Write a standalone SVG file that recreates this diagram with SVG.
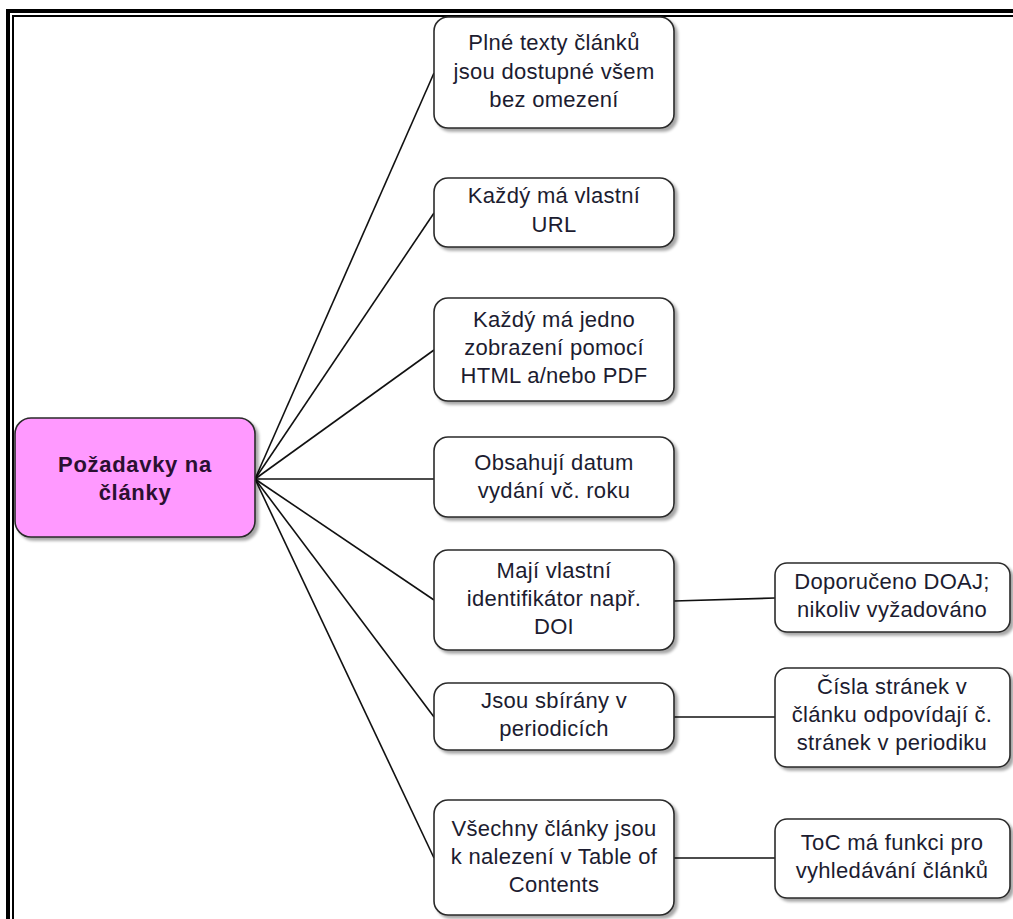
<svg xmlns="http://www.w3.org/2000/svg" width="1013" height="919" viewBox="0 0 1013 919">
<style>
.node{fill:#ffffff;stroke:#2a2a2a;stroke-width:1.6}
.root{fill:#ff99ff;stroke:#2a2a2a;stroke-width:1.6}
.t{font-family:"Liberation Sans",Arial,sans-serif;font-size:22px;letter-spacing:0.3px;fill:#1c1c30;text-anchor:middle}
.tb{font-family:"Liberation Sans",Arial,sans-serif;font-size:22px;font-weight:bold;letter-spacing:0.7px;fill:#2a1030;text-anchor:middle}
.c{stroke:#111;stroke-width:1.6;fill:none}
</style>
<defs>
<filter id="sh" x="-10%" y="-10%" width="130%" height="130%">
<feGaussianBlur in="SourceAlpha" stdDeviation="1.5"/>
<feOffset dx="3" dy="3" result="o"/>
<feComponentTransfer><feFuncA type="linear" slope="0.35"/></feComponentTransfer>
<feMerge><feMergeNode/><feMergeNode in="SourceGraphic"/></feMerge>
</filter>
</defs>
<rect width="1013" height="919" fill="#ffffff"/>
<g id="frame">
<rect x="6" y="9" width="1007" height="4" fill="#000"/>
<rect x="6" y="9" width="4" height="910" fill="#000"/>
<rect x="12" y="15" width="1001" height="2" fill="#000"/>
<rect x="12" y="15" width="2" height="904" fill="#000"/>
</g>
<g id="connectors">
<line class="c" x1="255" y1="479" x2="434" y2="73"/>
<line class="c" x1="255" y1="479" x2="434" y2="213"/>
<line class="c" x1="255" y1="479" x2="434" y2="350"/>
<line class="c" x1="255" y1="479" x2="434" y2="479"/>
<line class="c" x1="255" y1="479" x2="434" y2="600"/>
<line class="c" x1="255" y1="479" x2="434" y2="717"/>
<line class="c" x1="255" y1="479" x2="434" y2="858"/>
<line class="c" x1="674" y1="601" x2="775" y2="598"/>
<line class="c" x1="674" y1="717" x2="775" y2="717"/>
<line class="c" x1="674" y1="858" x2="775" y2="858"/>
</g>
<g id="root">
<rect class="root" x="15" y="418" width="240" height="119" rx="16" filter="url(#sh)"/>
<text class="tb" x="135" y="472">Požadavky na</text>
<text class="tb" x="135" y="500">články</text>
</g>
<g id="n1">
<rect class="node" x="434" y="17" width="240" height="111" rx="14" filter="url(#sh)"/>
<text class="t" x="554" y="50">Plné texty článků</text>
<text class="t" x="554" y="79">jsou dostupné všem</text>
<text class="t" x="554" y="107">bez omezení</text>
</g>
<g id="n2">
<rect class="node" x="434" y="178" width="240" height="69" rx="14" filter="url(#sh)"/>
<text class="t" x="554" y="203">Každý má vlastní</text>
<text class="t" x="554" y="232">URL</text>
</g>
<g id="n3">
<rect class="node" x="434" y="298" width="240" height="103" rx="14" filter="url(#sh)"/>
<text class="t" x="554" y="327">Každý má jedno</text>
<text class="t" x="554" y="355">zobrazení pomocí</text>
<text class="t" x="554" y="383">HTML a/nebo PDF</text>
</g>
<g id="n4">
<rect class="node" x="434" y="437" width="240" height="80" rx="14" filter="url(#sh)"/>
<text class="t" x="554" y="470">Obsahují datum</text>
<text class="t" x="554" y="498">vydání vč. roku</text>
</g>
<g id="n5">
<rect class="node" x="434" y="550" width="240" height="100" rx="14" filter="url(#sh)"/>
<text class="t" x="554" y="578">Mají vlastní</text>
<text class="t" x="554" y="606">identifikátor např.</text>
<text class="t" x="554" y="634">DOI</text>
</g>
<g id="n6">
<rect class="node" x="434" y="683" width="240" height="67" rx="14" filter="url(#sh)"/>
<text class="t" x="554" y="708">Jsou sbírány v</text>
<text class="t" x="554" y="736">periodicích</text>
</g>
<g id="n7">
<rect class="node" x="434" y="800" width="240" height="115" rx="14" filter="url(#sh)"/>
<text class="t" x="554" y="836">Všechny články jsou</text>
<text class="t" x="554" y="864">k nalezení v Table of</text>
<text class="t" x="554" y="892">Contents</text>
</g>
<g id="r1">
<rect class="node" x="775" y="563" width="235" height="69" rx="12" filter="url(#sh)"/>
<text class="t" x="892" y="589">Doporučeno DOAJ;</text>
<text class="t" x="892" y="617">nikoliv vyžadováno</text>
</g>
<g id="r2">
<rect class="node" x="775" y="668" width="235" height="99" rx="12" filter="url(#sh)"/>
<text class="t" x="892" y="694">Čísla stránek v</text>
<text class="t" x="892" y="722">článku odpovídají č.</text>
<text class="t" x="892" y="750">stránek v periodiku</text>
</g>
<g id="r3">
<rect class="node" x="775" y="819" width="235" height="79" rx="12" filter="url(#sh)"/>
<text class="t" x="892" y="850">ToC má funkci pro</text>
<text class="t" x="892" y="878">vyhledávání článků</text>
</g>
</svg>
